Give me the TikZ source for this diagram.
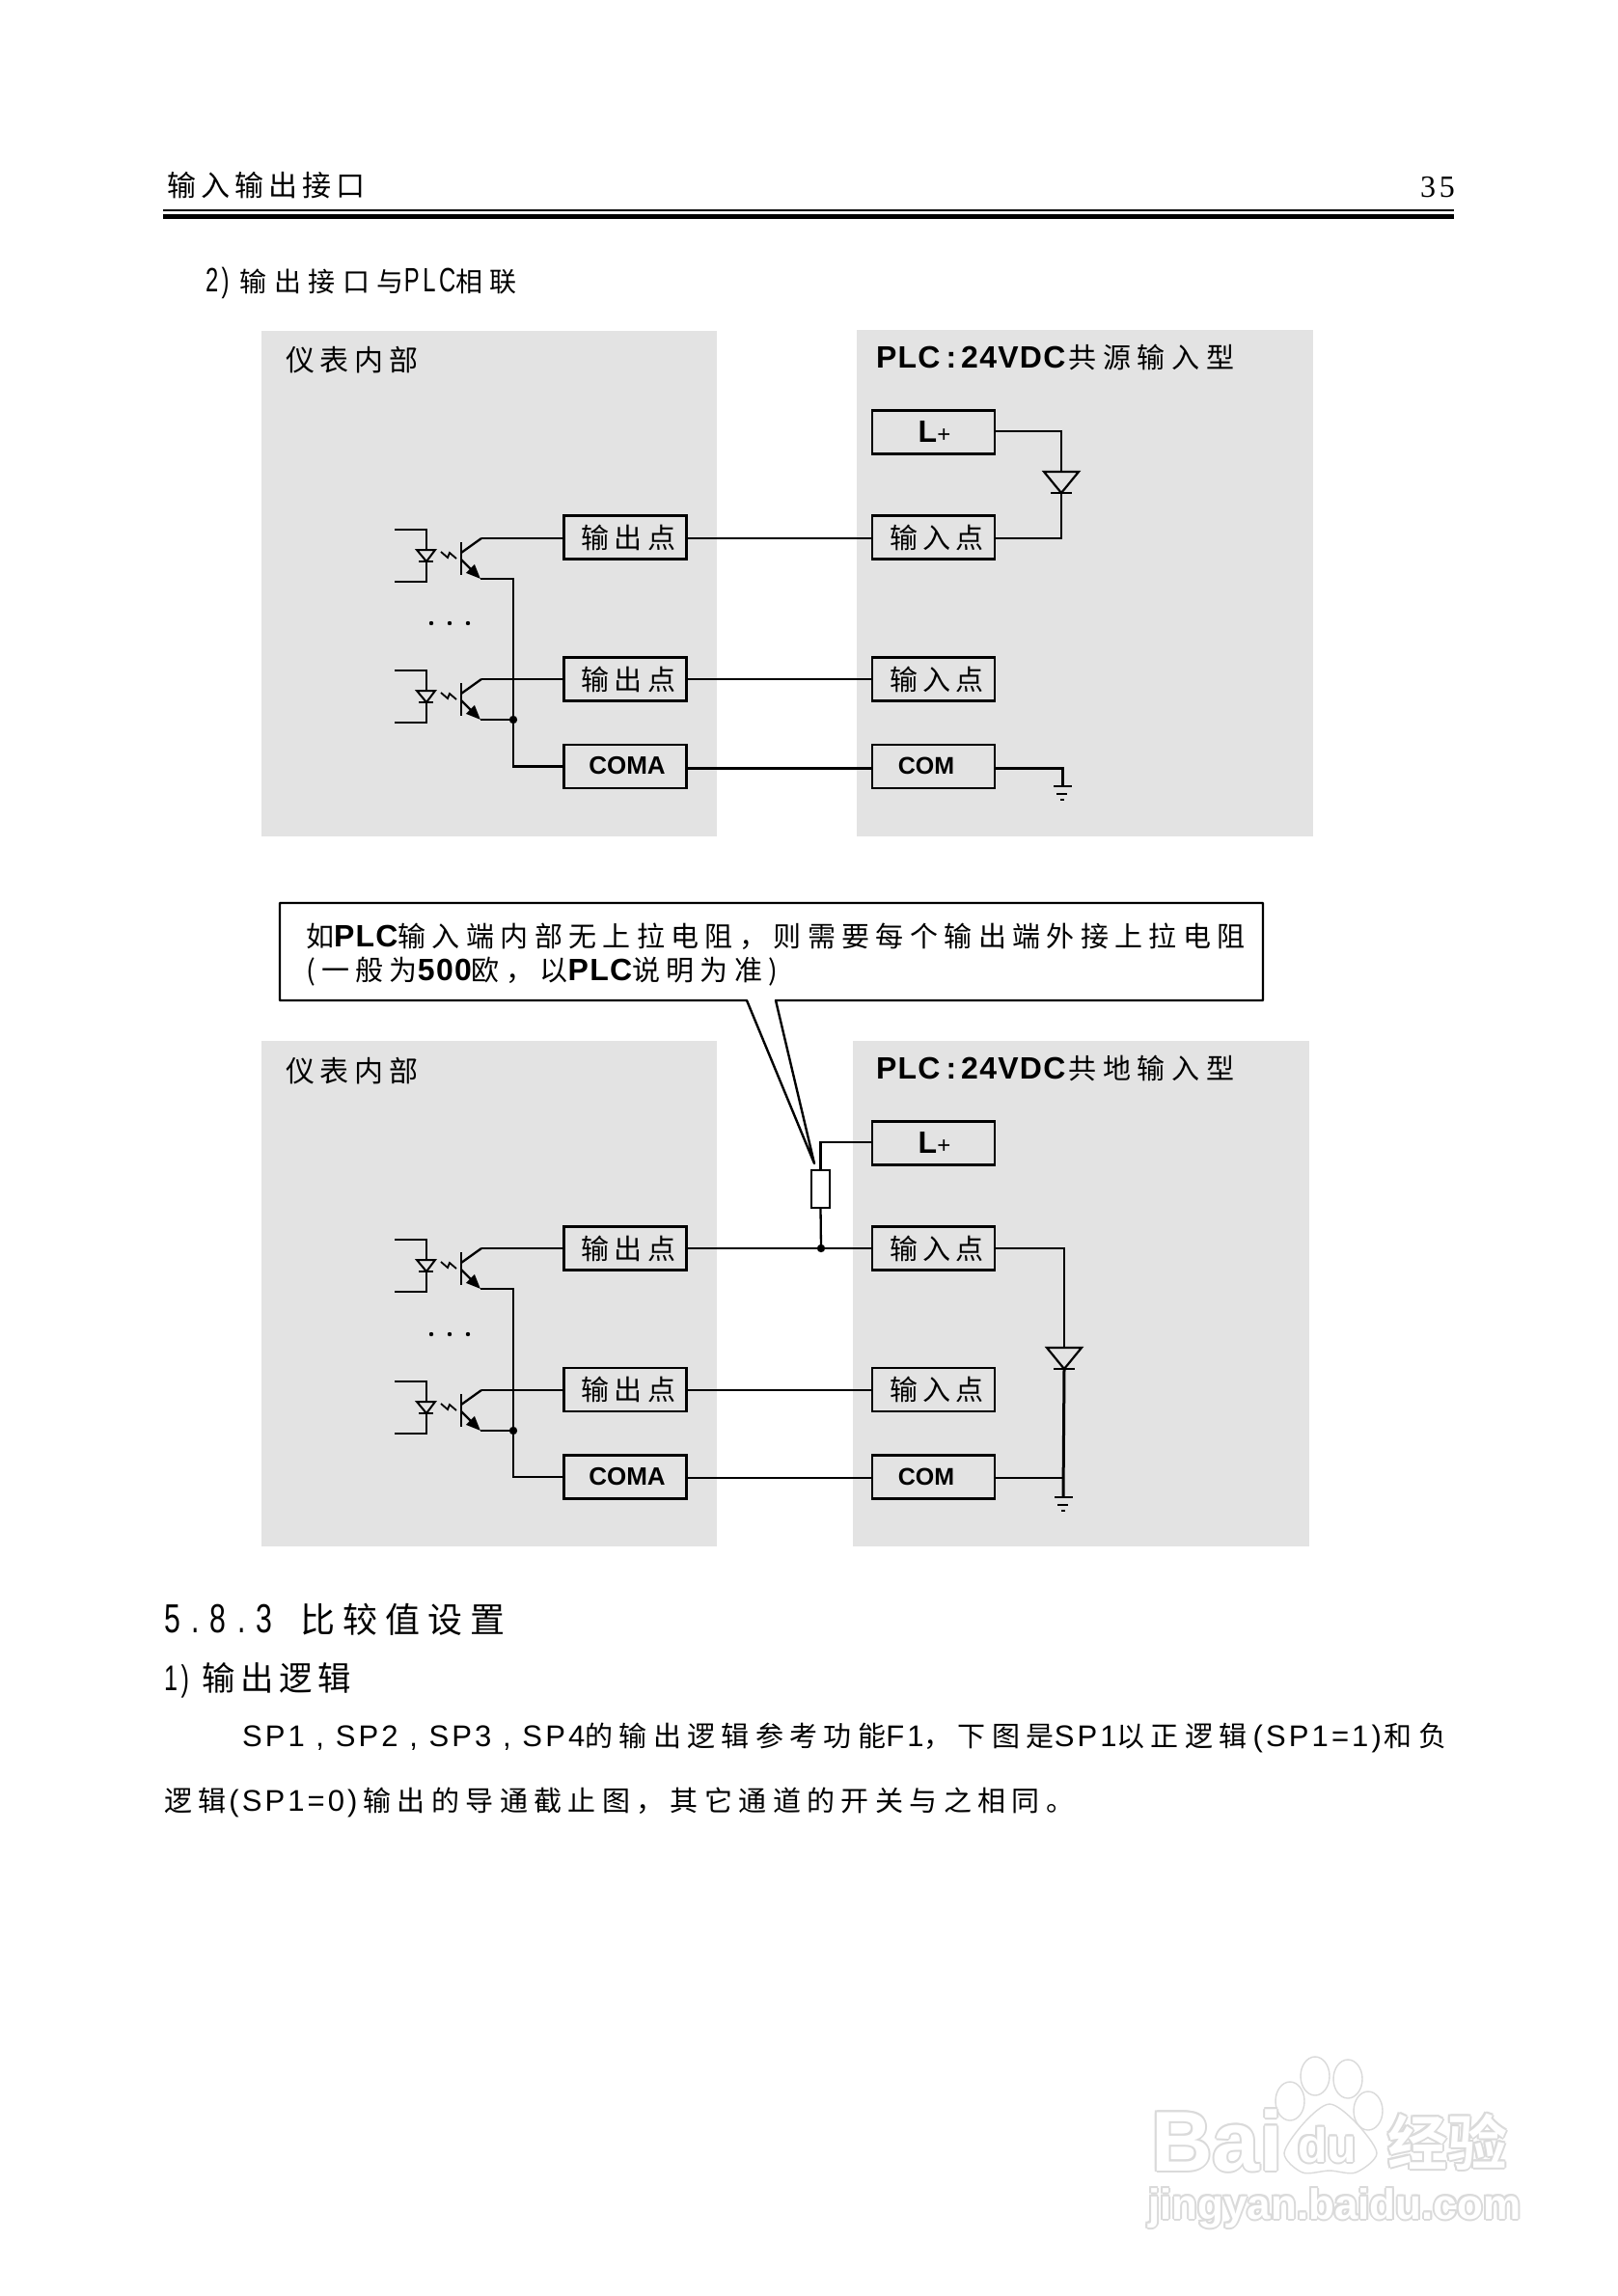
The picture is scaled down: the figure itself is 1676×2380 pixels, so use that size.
\documentclass[tikz,border=0pt]{standalone}
\usepackage{fontspec}
\usetikzlibrary{arrows.meta,calc}
\setmainfont{Liberation Sans}
\newfontfamily\zhA[LetterSpace=17]{Noto Sans CJK SC}
\newfontfamily\zhC[LetterSpace=19]{Noto Sans CJK SC}
\newfontfamily\zhT[LetterSpace=23]{Noto Sans CJK SC}
\newfontfamily\zh[LetterSpace=22]{Noto Sans CJK SC}
\newfontfamily\zhB[LetterSpace=27]{Noto Sans CJK SC}
\newfontfamily\la[LetterSpace=10]{Liberation Sans}
\newfontfamily\laN[FakeStretch=0.68,LetterSpace=10]{Liberation Sans}
\newfontfamily\laW[FakeStretch=0.72,LetterSpace=27]{Liberation Sans}
\newfontfamily\lb[LetterSpace=4]{Liberation Sans Bold}
\newfontfamily\lbox{Liberation Sans Bold}
\newfontfamily\ser[LetterSpace=12]{Liberation Serif}
\newfontfamily\wmzh{Noto Sans CJK SC Bold}
\newcommand\fs[1]{\fontsize{#1}{#1}\selectfont}
\definecolor{panelgray}{HTML}{E3E3E3}
\definecolor{wmgray}{HTML}{DADADA}
\newcommand\wmc[3]{\rlap{\kern#1\raisebox{#2}{\textcolor{wmgray}{#3}}}}
\newcommand\halo[1]{\wmc{-1pt}{0pt}{#1}\wmc{1pt}{0pt}{#1}\wmc{0pt}{1pt}{#1}\wmc{0pt}{-1pt}{#1}\wmc{-.7pt}{-.7pt}{#1}\wmc{.7pt}{-.7pt}{#1}\wmc{-.7pt}{.7pt}{#1}\wmc{.7pt}{.7pt}{#1}\textcolor{white}{#1}}
\newcommand\plcttl{\fs{16}\lb PLC\kern3pt:\kern2.5pt 24VDC\kern1.5pt}
\tikzset{
  x=0.5pt,y=-0.5pt,
  panel/.style={fill=panelgray,draw=none},
  wire/.style={line width=1.15pt,line join=miter},
  heavy/.style={line width=1.5pt},
  txt/.style={inner sep=0pt,outer sep=0pt,anchor=base west,text=black},
  iobox/.style={draw=black,line width=1.2pt,minimum width=63.5pt,minimum height=22.5pt,inner sep=0pt,outer sep=0pt},
  res/.style={draw=black,line width=1.2pt,minimum width=9.5pt,minimum height=19.5pt,inner sep=0pt,outer sep=0pt},
  jdot/.style={circle,fill=black,inner sep=0pt,minimum size=4.2pt},
  ddot/.style={circle,fill=black,inner sep=0pt,minimum size=2.2pt},
  wml/.style={draw=wmgray,fill=white,line width=.7pt},
  optoc/.pic={
    \draw[line width=1pt] (409,-9) -| (442,45) -- (409,45);
    \draw[line width=1pt,fill=panelgray] (432,12) -- (451,12) -- (442,24) -- cycle;
    \draw[line width=1.2pt] (434,24) -- (449,24);
    \draw[line width=.9pt] (457,14) -- (464,20) -- (466,15) -- (473,21);
    \draw[line width=1.2pt] (478,4) -- (478,38);
    \draw[wire] (478,15) -- (499,0);
    \draw[wire,-{Triangle[length=7.5pt,width=6pt]}] (478,22) -- (498,42);
    \coordinate (-c) at (499,0);
    \coordinate (-e) at (498,42);
  },
  diodep/.pic={
    \draw[line width=1.1pt] (-18,0) -- (18,0) -- (0,22) -- cycle;
    \draw[line width=1.1pt] (-11,22) -- (11,22);
    \coordinate (-a) at (0,0);
    \coordinate (-k) at (0,22);
  },
  gnd/.pic={
    \draw[line width=1.1pt] (-9,0) -- (10,0);
    \draw[line width=1.1pt] (-6,8) -- (5,8);
    \draw[line width=1.1pt] (-2,14) -- (2,14);
    \coordinate (-t) at (0,0);
  }
}
\begin{document}
\begin{tikzpicture}
\useasboundingbox (0,0) rectangle (1676,2380);
\fill[white] (0,0) rectangle (1676,2380);
% header
\node[txt] (hd) at (173,204) {\fs{15}\zhA 输入输出接口};
\node[txt,anchor=base east] (pg) at (1508,205) {\fs{16}\ser 35};
\fill (169,217) rectangle (1507,219);
\fill (169,222.5) rectangle (1507,227);
\node[txt] (sub) at (213,303) {\fs{17.5}\laN 2)\kern5.5pt\fs{14}\zhB 输出接口与\fs{17.5}\laN PLC\fs{14}\zhB 相联};
% panels
\path[panel] (271,343) rectangle (743,867);
\path[panel] (888,342) rectangle (1361,867);
\path[panel] (271,1079) rectangle (743,1603);
\path[panel] (884,1079) rectangle (1357,1603);
\node[txt] (p1) at (296,385) {\fs{15}\zhC 仪表内部};
\node[txt] (p2) at (908,382) {\plcttl\fs{14.5}\zhT 共源输入型};
\node[txt] (p3) at (296,1121) {\fs{15}\zhC 仪表内部};
\node[txt] (p4) at (908,1118) {\plcttl\fs{14.5}\zhT 共地输入型};
% upper circuit
\node[iobox] (o1) at (648,557) {\kern3.5pt\fs{14.5}\zhC 输出点};
\node[iobox] (o2) at (648,704) {\kern3.5pt\fs{14.5}\zhC 输出点};
\node[iobox] (oc) at (648,794.5) {\kern2pt\raisebox{.7pt}{\fs{13}\lbox COMA}};
\node[iobox] (i1) at (967.5,557) {\kern3.5pt\fs{14.5}\zhC 输入点};
\node[iobox] (i2) at (967.5,704) {\kern3.5pt\fs{14.5}\zhC 输入点};
\node[iobox] (ic) at (967.5,794.5) {\raisebox{.7pt}{\fs{12.5}\lbox COM}\kern7.5pt};
\node[iobox] (L1) at (967.5,448) {\kern1pt\raisebox{.7pt}{\fs{16}\lbox L\fs{12}\rmfamily +}};
\pic (ta) at (0,558) {optoc};
\pic (tb) at (0,704) {optoc};
\node[ddot] (d1a) at (447,646) {};
\node[ddot] (d1b) at (466,646) {};
\node[ddot] (d1c) at (485,646) {};
\node[jdot] (j1) at (532,746) {};
\draw[wire] (ta-c) -- (ta-c -| o1.west);
\draw[wire] (tb-c) -- (tb-c -| o2.west);
\draw[wire] (ta-e) -- (ta-e -| j1) -- (j1.center) |- (oc.west);
\draw[wire] (tb-e) -- (j1.center);
\draw[wire] (o1.east |- ta-c) -- (i1.west |- ta-c);
\draw[wire] (o2.east |- tb-c) -- (i2.west |- tb-c);
\draw[heavy] (oc.east |- 0,796) -- (ic.west |- 0,796);
\pic (da) at (1100,489) {diodep};
\draw[wire] (L1.east |- 0,447) -| (da-a);
\draw[wire] (da-k) |- (i1.east |- ta-c);
\pic (ga) at (1101,815) {gnd};
\draw[heavy] (ic.east |- 0,796) -| (ga-t);
% callout
\draw[fill=white,line width=1.2pt,line join=round] (290,936) -- (1309,936) -- (1309,1037) -- (804,1037) -- (844,1206) -- (774,1037) -- (290,1037) -- cycle;
\node[txt] (c1) at (317,981) {\fs{14.5}\zh 如\fs{16}\lb PLC\fs{14.5}\zh 输入端内部无上拉电阻，则需要每个输出端外接上拉电阻};
\node[txt] (c2) at (317,1016) {\fs{14.5}\zh (一般为\fs{16}\lb 500\fs{14.5}\zh 欧，以\fs{16}\lb PLC\fs{14.5}\zh 说明为准)};
% lower circuit
\node[iobox] (o3) at (648,1294) {\kern3.5pt\fs{14.5}\zhC 输出点};
\node[iobox] (o4) at (648,1440.5) {\kern3.5pt\fs{14.5}\zhC 输出点};
\node[iobox] (oc2) at (648,1531) {\kern2pt\raisebox{.7pt}{\fs{13}\lbox COMA}};
\node[iobox] (L2) at (967.5,1185) {\kern1pt\raisebox{.7pt}{\fs{16}\lbox L\fs{12}\rmfamily +}};
\node[iobox] (i3) at (967.5,1294) {\kern3.5pt\fs{14.5}\zhC 输入点};
\node[iobox] (i4) at (967.5,1440.5) {\kern3.5pt\fs{14.5}\zhC 输入点};
\node[iobox] (ic2) at (967.5,1531) {\raisebox{.7pt}{\fs{12.5}\lbox COM}\kern7.5pt};
\node[res] (R) at (850.5,1232.5) {};
\node[jdot] (j3) at (851,1294) {};
\node[jdot] (j2) at (532,1483) {};
\pic (tc) at (0,1294) {optoc};
\pic (td) at (0,1441) {optoc};
\node[ddot] (d2a) at (447,1383) {};
\node[ddot] (d2b) at (466,1383) {};
\node[ddot] (d2c) at (485,1383) {};
\draw[wire] (tc-c) -- (tc-c -| o3.west);
\draw[wire] (td-c) -- (td-c -| o4.west);
\draw[wire] (tc-e) -- (tc-e -| j2) -- (j2.center) |- (oc2.west);
\draw[wire] (td-e) -- (td-e -| j2);
\draw[wire] (o3.east |- tc-c) -- (i3.west |- tc-c);
\draw[wire] (o4.east |- td-c) -- (i4.west |- td-c);
\draw[wire] (oc2.east |- 0,1532) -- (ic2.west |- 0,1532);
\draw[wire] (L2.west |- 0,1184) -| (R.north);
\draw[wire] (R.south) -- (j3.center);
\pic (db) at (1103,1397) {diodep};
\draw[wire] (i3.east |- tc-c) -| (db-a);
\pic (gb) at (1102,1552) {gnd};
\draw[heavy] (db-k) -- (gb-t);
\draw[wire] (ic2.east |- 0,1532) -- (1102,1532);
% body text
\node[txt] (h1) at (170,1692) {\fs{21}\laW 5.8.3\kern14.5pt\fs{18}\zh 比较值设置};
\node[txt] (h2) at (170,1752) {\fs{18.5}\laN 1)\kern6.5pt\fs{17.2}\zhA 输出逻辑};
\node[txt] (b1) at (251,1810) {\fs{15.5}\la SP1 , SP2 , SP3 , SP4\fs{14.5}\zh 的输出逻辑参考功能\fs{15.5}\la F1\fs{14.5}\zh ，下图是\fs{15.5}\la SP1\fs{14.5}\zh 以正逻辑\kern3pt\fs{15.5}\la (SP1=1)\kern1.5pt\fs{14.5}\zh 和负};
\node[txt] (b2) at (170,1877) {\fs{14.5}\zh 逻辑\kern1.5pt\fs{15.5}\la (SP1=0)\kern3pt\fs{14.5}\zh 输出的导通截止图，其它通道的开关与之相同。};
% watermark
\draw[wml] (1337,2178) ellipse (15 and 20);
\draw[wml] (1363,2152) ellipse (15 and 20);
\draw[wml] (1397,2155) ellipse (15 and 20);
\draw[wml] (1418,2188) ellipse (15 and 20);
\draw[wml] plot[smooth cycle] coordinates {(1378,2181) (1405,2200) (1427,2232) (1405,2252) (1378,2250) (1350,2252) (1331,2232) (1352,2200)};
\node[txt] (w1) at (1193,2250) {\fs{44}\lbox\halo{Bai}};
\node[txt] (w2) at (1345,2241) {\fs{25}\lbox\halo{du}};
\node[txt] (w3) at (1438,2244) {\fs{31}\wmzh\halo{经验}};
\node[txt] (w4) at (1190,2300) {\fs{22}\lbox\halo{jingyan.baidu.com}};
\end{tikzpicture}
\end{document}
